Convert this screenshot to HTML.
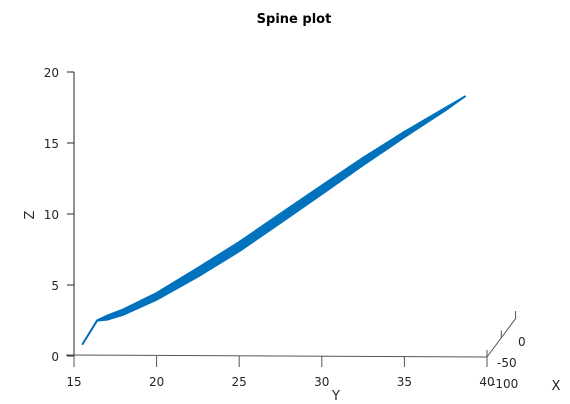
<!DOCTYPE html>
<html><head><meta charset="utf-8"><style>
body{margin:0;background:#fff;}
svg{display:block;font-family:"DejaVu Sans","Liberation Sans",sans-serif;}
</style></head><body>
<svg id="chart" width="570" height="404">
<text x="294" y="23" text-anchor="middle" font-size="13" font-weight="bold" fill="#000">Spine plot</text>
<g id="axes"></g>
<g id="series"></g>
</svg>
<script>
const yCats=[15.5,16.4,17,18,20,22.5,25,27.5,30,32.5,35,37.5,38.7];
const zCenter=[0.8,2.5,2.7,3.1,4.2,5.9,7.7,9.7,11.7,13.7,15.6,17.4,18.3];
const zHalf=[0,0.02,0.15,0.2,0.25,0.32,0.34,0.34,0.32,0.28,0.2,0.1,0];
const yTicks=[15,20,25,30,35,40];
const zTicks=[0,5,10,15,20];
const xTickLabels=["-100","-50","0"];
const strands=[-1,-0.66,-0.33,0,0.33,0.66,1];

const NS="http://www.w3.org/2000/svg";
const px=Y=>74+(Y-15)*16.52;
const pz=Z=>356-Z*14.2;
function mk(tag,attrs,parent){const e=document.createElementNS(NS,tag);for(const k in attrs)e.setAttribute(k,attrs[k]);parent.appendChild(e);return e;}
const ax=document.getElementById('axes');
const se=document.getElementById('series');
const grey="#555", tc="#262626";
let l=mk('line',{x1:74,y1:pz(20),x2:74,y2:356,stroke:tc,'stroke-width':1},ax);


zTicks.forEach(z=>{
  mk('line',{x1:74,y1:pz(z),x2:67,y2:pz(z),stroke:tc},ax);
  const t=mk('text',{x:59,y:pz(z)+5,'text-anchor':'end','font-size':12,fill:tc},ax);
  t.textContent=z;
  
  
});
l=mk('line',{x1:66,y1:355,x2:487,y2:357,stroke:grey},ax);


yTicks.forEach(y=>{
  const x=px(y);
  mk('line',{x1:x,y1:356,x2:x,y2:367,stroke:grey},ax);
  const t=mk('text',{x:x,y:386,'text-anchor':'middle','font-size':12,fill:tc},ax);
  t.textContent=y;
  
  
});
l=mk('line',{x1:487,y1:357,x2:516,y2:318,stroke:grey},ax);


const xlPos=[[491,388],[497,367],[518,346]];
xTickLabels.forEach((lab,i)=>{
  const x=487+i*14.3, y=357-i*19.5;
  mk('line',{x1:x,y1:y,x2:x,y2:y-7,stroke:grey},ax);
  const t=mk('text',{x:xlPos[i][0],y:xlPos[i][1],'font-size':12,fill:tc},ax);
  t.textContent=lab;
  
  
});
[["Z",34,215,-90,"z-axis-title"],["Y",336,400,0,"y-axis-title"],["X",556,390,0,"x-axis-title"]].forEach(a=>{
  const t=mk('text',{x:a[1],y:a[2],'text-anchor':'middle','font-size':13,fill:tc,transform:a[3]?`rotate(${a[3]} ${a[1]} ${a[2]})`:''},ax);
  t.textContent=a[0];
  
  
});
strands.forEach((s,k)=>{
  const pts=yCats.map((y,i)=>px(y).toFixed(1)+","+pz(zCenter[i]+s*zHalf[i]).toFixed(1)).join(" ");
  const p=mk('polyline',{points:pts,fill:'none',stroke:'#0072BD','stroke-width':1.6,'stroke-linejoin':'round'},se);
  
  
});
</script>
</body></html>
